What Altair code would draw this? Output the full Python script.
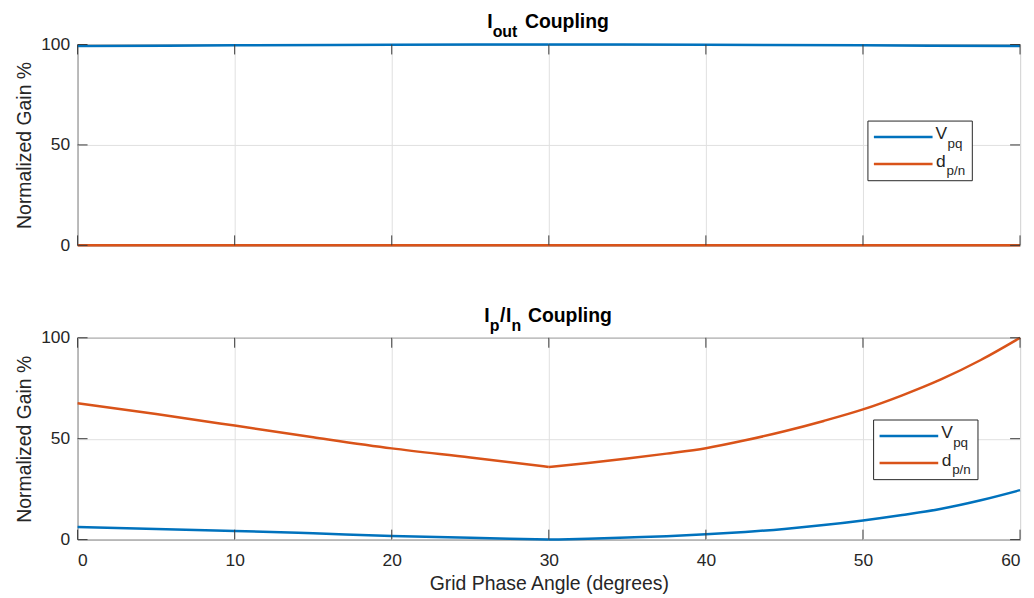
import altair as alt
import pandas as pd

# ---------------- data ----------------
angles_top = [0, 10, 20, 30, 40, 50, 60]
vpq_top = [99.2, 99.6, 99.9, 100.0, 99.9, 99.6, 99.2]
dpn_top = [0, 0, 0, 0, 0, 0, 0]

angles_bot = [0, 5, 10, 15, 20, 25, 30, 32.5, 35, 37.5, 40, 42.5, 45, 47.5, 50, 52.5, 55, 57.5, 60]
vpq_bot = [6.2, 5.3, 4.3, 3.1, 1.8, 0.9, 0.0, 0.4, 1.0, 1.7, 2.6, 3.8, 5.3, 7.2, 9.5, 12.2, 15.3, 19.5, 24.5]
dpn_bot = [67.6, 62.2, 56.5, 50.7, 45.2, 40.7, 36.0, 38.0, 40.2, 42.6, 45.3, 49.2, 53.7, 58.8, 64.5, 71.5, 79.5, 89.0, 100.0]

x_ticks = [0, 10, 20, 30, 40, 50, 60]
y_ticks = [0, 50, 100]
series = ["Vpq", "dpn"]
colors = ["#0072BD", "#D95319"]

FONT = "Liberation Sans"
AX = "#262626"
W = 948


def long_df(angles, v, d):
    # two segments joined at 30 degrees so the kink there stays sharp
    rows = []
    for name, vals in (("Vpq", v), ("dpn", d)):
        for a, val in zip(angles, vals):
            if a <= 30:
                rows.append({"angle": a, "value": val, "series": name, "seg": "a"})
            if a >= 30:
                rows.append({"angle": a, "value": val, "series": name, "seg": "b"})
    return pd.DataFrame(rows)


one = pd.DataFrame({"k": [0]})


def txt(s, x, y, size, weight="normal", color=AX):
    return alt.Chart(one).mark_text(
        text=s, align="left", baseline="alphabetic", font=FONT,
        fontSize=size, fontWeight=weight, color=color
    ).encode(x=alt.value(x), y=alt.value(y))


def legend(lx, ly):
    box = alt.Chart(one).mark_rect(fill="white", stroke=AX, strokeWidth=1).encode(
        x=alt.value(lx), x2=alt.value(lx + 105), y=alt.value(ly), y2=alt.value(ly + 60))
    l1 = alt.Chart(one).mark_rule(color=colors[0], strokeWidth=2.5).encode(
        x=alt.value(lx + 6), x2=alt.value(lx + 65), y=alt.value(ly + 16))
    l2 = alt.Chart(one).mark_rule(color=colors[1], strokeWidth=2.5).encode(
        x=alt.value(lx + 6), x2=alt.value(lx + 65), y=alt.value(ly + 43.3))
    return [box, l1, l2,
            txt("V", lx + 68, ly + 18.3, 17.5),
            txt("pq", lx + 80, ly + 27.3, 13.5),
            txt("d", lx + 68.5, ly + 46.7, 17.5),
            txt("p/n", lx + 79, ly + 54, 13.5)]


def panel(angles, v, d, H, show_x, title_layers, lpos):
    df = long_df(angles, v, d)
    xscale = alt.Scale(domain=[0, 60], nice=False, zero=False)
    yscale = alt.Scale(domain=[0, 100], nice=False)
    if show_x:
        xaxis = alt.Axis(values=x_ticks, grid=True, labels=True, ticks=False, domain=False,
                         title="Grid Phase Angle (degrees)", labelPadding=12, titlePadding=6)
    else:
        xaxis = alt.Axis(values=x_ticks, grid=True, labels=False, ticks=False, domain=False,
                         title=None)
    yaxis = alt.Axis(values=y_ticks, grid=True, ticks=False, domain=False,
                     title="Normalized Gain %", labelPadding=8, titlePadding=6)
    lines = alt.Chart(df).mark_line(strokeWidth=2.5, clip=False, interpolate="monotone").encode(
        x=alt.X("angle:Q", scale=xscale, axis=xaxis),
        y=alt.Y("value:Q", scale=yscale, axis=yaxis),
        color=alt.Color("series:N", scale=alt.Scale(domain=series, range=colors), legend=None),
        detail="seg:N",
    )
    xt = pd.DataFrame({"angle": x_ticks})
    yt = pd.DataFrame({"value": y_ticks})
    tc = "#3a3a3a"
    tk = [
        alt.Chart(xt).mark_rule(color=tc, strokeWidth=1).encode(
            x="angle:Q", y=alt.value(0), y2=alt.value(10)),
        alt.Chart(xt).mark_rule(color=tc, strokeWidth=1).encode(
            x="angle:Q", y=alt.value(H - 10), y2=alt.value(H)),
        alt.Chart(yt).mark_rule(color=tc, strokeWidth=1).encode(
            y="value:Q", x=alt.value(0), x2=alt.value(10)),
        alt.Chart(yt).mark_rule(color=tc, strokeWidth=1).encode(
            y="value:Q", x=alt.value(W - 10), x2=alt.value(W)),
    ]
    layers = [lines] + tk + legend(*lpos) + title_layers
    return alt.layer(*layers).properties(width=W, height=H)


title_top = [
    txt("I", 412, -16.3, 19.5, "bold", "black"),
    txt("out", 417.5, -7.3, 16, "bold", "black"),
    txt("Coupling", 450, -16.3, 19.5, "bold", "black"),
]
title_bot = [
    txt("I", 409, -16.3, 19.5, "bold", "black"),
    txt("p", 414.5, -7.3, 16, "bold", "black"),
    txt("/", 425, -16.3, 19.5, "bold", "black"),
    txt("I", 431, -16.3, 19.5, "bold", "black"),
    txt("n", 436.5, -7.3, 16, "bold", "black"),
    txt("Coupling", 453, -16.3, 19.5, "bold", "black"),
]

top = panel(angles_top, vpq_top, dpn_top, 202, False, title_top, (795, 77))
bot = panel(angles_bot, vpq_bot, dpn_bot, 203, True, title_bot, (800.7, 82.7))

chart = alt.VConcatChart(vconcat=[top, bot], spacing=93, bounds="flush").properties(
    padding={"left": 6, "top": 2, "right": 0, "bottom": 0}
).configure_view(stroke=AX, strokeWidth=1).configure_axis(
    labelFont=FONT, titleFont=FONT, labelFontSize=17.5, titleFontSize=19.5,
    labelColor=AX, titleColor=AX, titleFontWeight="normal",
    gridColor="#e0e0e0", gridWidth=1
)

chart.save("out.html", embed_options={"renderer": "svg", "actions": False})
